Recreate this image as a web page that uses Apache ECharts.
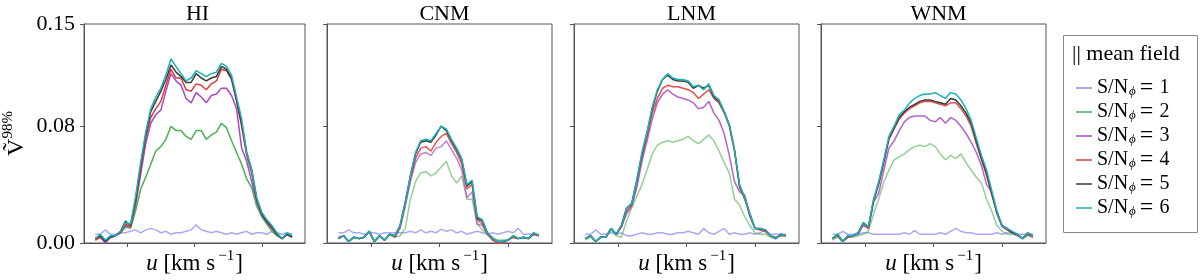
<!DOCTYPE html>
<html><head><meta charset="utf-8">
<script src="https://cdn.jsdelivr.net/npm/echarts@6/dist/echarts.min.js"></script>
<style>html,body{margin:0;padding:0;background:#fff}#c{width:1200px;height:280px}</style>
</head><body><div id="c"></div><script>
// velocity channels (km/s)
const u = [-14.75,-14,-13.25,-12.5,-11.75,-11,-10.25,-9.5,-8.75,-8,-7.25,-6.5,-5.75,-5,-4.25,-3.5,-2.75,-2,-1.25,-0.5,0.25,1,1.75,2.5,3.25,4,4.75,5.5,6.25,7,7.75,8.5,9.25,10,10.75,11.5,12.25,13,13.75,14.5];
const panelTitles = ['HI','CNM','LNM','WNM'];
const snValues = ['1','2','3','4','5','6'];
const yTickValues = [0, 0.08, 0.15];
const xTickValues = [-10, 0, 10];

// HI
const hi_sn1 = [0.006,0.006,0.009,0.006,0.006,0.007,0.007,0.008,0.009,0.007,0.009,0.010,0.009,0.007,0.008,0.006,0.007,0.007,0.008,0.009,0.0125,0.009,0.008,0.007,0.008,0.007,0.006,0.007,0.006,0.007,0.008,0.006,0.007,0.007,0.006,0.008,0.007,0.006,0.007,0.006];
const hi_sn2 = [0.002,0.004,0.002,0.004,0.005,0.007,0.011,0.010,0.022,0.037,0.045,0.054,0.063,0.066,0.071,0.080,0.077,0.077,0.073,0.071,0.077,0.077,0.071,0.074,0.076,0.082,0.079,0.070,0.062,0.054,0.044,0.038,0.025,0.018,0.013,0.008,0.005,0.003,0.006,0.004];
const hi_sn3 = [0.003,0.004,0.000,0.004,0.005,0.007,0.012,0.011,0.026,0.047,0.068,0.082,0.088,0.091,0.104,0.116,0.111,0.108,0.099,0.096,0.103,0.100,0.096,0.101,0.102,0.106,0.106,0.101,0.092,0.065,0.056,0.042,0.028,0.019,0.014,0.010,0.006,0.003,0.006,0.004];
const hi_sn4 = [0.002,0.004,0.002,0.004,0.005,0.007,0.013,0.011,0.028,0.050,0.072,0.086,0.092,0.097,0.108,0.119,0.113,0.113,0.105,0.104,0.109,0.108,0.105,0.109,0.111,0.119,0.118,0.112,0.097,0.080,0.060,0.048,0.029,0.020,0.015,0.010,0.006,0.003,0.006,0.005];
const hi_sn5 = [0.003,0.005,0.001,0.004,0.005,0.008,0.015,0.012,0.030,0.053,0.074,0.090,0.097,0.104,0.112,0.122,0.117,0.114,0.110,0.110,0.116,0.113,0.111,0.113,0.114,0.121,0.119,0.113,0.098,0.082,0.062,0.050,0.030,0.020,0.015,0.011,0.006,0.003,0.006,0.004];
const hi_sn6 = [0.003,0.006,0.002,0.005,0.005,0.008,0.014,0.013,0.032,0.055,0.076,0.092,0.100,0.106,0.115,0.126,0.121,0.116,0.111,0.113,0.118,0.116,0.114,0.116,0.117,0.123,0.121,0.115,0.100,0.085,0.062,0.050,0.031,0.021,0.016,0.012,0.007,0.003,0.007,0.005];

// CNM
const cnm_sn1 = [0.007,0.007,0.009,0.007,0.007,0.006,0.007,0.007,0.006,0.007,0.007,0.007,0.007,0.007,0.008,0.007,0.009,0.007,0.008,0.007,0.0095,0.008,0.009,0.007,0.008,0.006,0.007,0.008,0.007,0.006,0.007,0.006,0.007,0.008,0.007,0.010,0.006,0.006,0.006,0.006];
const cnm_sn2 = [0.003,0.005,0.001,0.004,0.003,0.004,0.008,0.001,0.005,0.002,0.006,0.004,0.005,0.010,0.030,0.042,0.048,0.049,0.046,0.048,0.052,0.056,0.046,0.041,0.046,0.030,0.030,0.013,0.009,0.006,0.004,0.002,0.002,0.002,0.004,0.003,0.003,0.003,0.006,0.005];
const cnm_sn3 = [0.003,0.005,0.001,0.004,0.003,0.004,0.008,0.001,0.005,0.002,0.006,0.004,0.010,0.025,0.042,0.055,0.061,0.062,0.060,0.065,0.066,0.070,0.064,0.058,0.050,0.031,0.035,0.013,0.012,0.006,0.002,0.001,0.001,0.002,0.004,0.003,0.004,0.003,0.006,0.005];
const cnm_sn4 = [0.004,0.005,0.001,0.004,0.003,0.004,0.008,0.001,0.005,0.002,0.006,0.004,0.011,0.027,0.044,0.058,0.065,0.066,0.063,0.069,0.073,0.075,0.068,0.062,0.054,0.037,0.040,0.016,0.013,0.006,0.002,0.000,0.000,0.002,0.004,0.003,0.004,0.003,0.006,0.005];
const cnm_sn5 = [0.003,0.005,0.001,0.004,0.003,0.004,0.008,0.001,0.005,0.002,0.006,0.005,0.012,0.028,0.046,0.061,0.069,0.070,0.069,0.074,0.080,0.077,0.070,0.064,0.057,0.039,0.042,0.017,0.015,0.007,0.003,0.001,0.001,0.002,0.005,0.003,0.004,0.003,0.007,0.005];
const cnm_sn6 = [0.003,0.005,0.001,0.004,0.003,0.004,0.008,0.001,0.005,0.002,0.006,0.005,0.012,0.028,0.046,0.062,0.070,0.071,0.070,0.075,0.080,0.078,0.071,0.065,0.058,0.040,0.043,0.018,0.016,0.007,0.003,0.001,0.001,0.002,0.005,0.003,0.004,0.003,0.007,0.005];

// LNM
const lnm_sn1 = [0.006,0.006,0.009,0.006,0.006,0.007,0.006,0.007,0.005,0.005,0.006,0.007,0.006,0.006,0.007,0.007,0.006,0.006,0.007,0.007,0.008,0.007,0.006,0.010,0.007,0.006,0.008,0.010,0.006,0.007,0.006,0.006,0.007,0.006,0.007,0.009,0.006,0.006,0.006,0.006];
const lnm_sn2 = [0.002,0.004,0.001,0.004,0.004,0.009,0.005,0.004,0.015,0.024,0.032,0.040,0.050,0.061,0.067,0.069,0.070,0.069,0.070,0.071,0.073,0.070,0.068,0.071,0.074,0.070,0.063,0.055,0.048,0.030,0.026,0.018,0.012,0.007,0.006,0.006,0.004,0.003,0.005,0.005];
const lnm_sn3 = [0.003,0.005,0.001,0.004,0.004,0.010,0.006,0.011,0.020,0.025,0.038,0.056,0.070,0.085,0.096,0.102,0.105,0.102,0.100,0.099,0.098,0.096,0.092,0.093,0.097,0.089,0.084,0.075,0.060,0.042,0.035,0.033,0.018,0.010,0.009,0.008,0.005,0.003,0.006,0.005];
const lnm_sn4 = [0.003,0.005,0.001,0.004,0.004,0.010,0.006,0.011,0.022,0.026,0.042,0.059,0.073,0.089,0.099,0.106,0.108,0.107,0.107,0.106,0.105,0.103,0.099,0.102,0.105,0.099,0.096,0.089,0.080,0.063,0.038,0.030,0.019,0.010,0.009,0.008,0.005,0.004,0.005,0.005];
const lnm_sn5 = [0.003,0.005,0.001,0.004,0.004,0.010,0.006,0.012,0.024,0.027,0.043,0.061,0.076,0.092,0.104,0.112,0.115,0.112,0.111,0.111,0.110,0.106,0.108,0.106,0.108,0.100,0.097,0.090,0.081,0.064,0.039,0.031,0.020,0.010,0.010,0.009,0.005,0.003,0.006,0.005];
const lnm_sn6 = [0.003,0.005,0.001,0.004,0.004,0.010,0.006,0.012,0.024,0.027,0.043,0.062,0.076,0.093,0.105,0.112,0.116,0.113,0.112,0.112,0.111,0.107,0.108,0.105,0.109,0.101,0.098,0.090,0.081,0.064,0.040,0.031,0.020,0.010,0.010,0.009,0.005,0.003,0.006,0.005];

// WNM
const wnm_sn1 = [0.006,0.006,0.008,0.006,0.006,0.006,0.007,0.007,0.006,0.006,0.006,0.006,0.006,0.006,0.007,0.006,0.0085,0.006,0.006,0.006,0.006,0.007,0.006,0.008,0.010,0.008,0.007,0.007,0.006,0.006,0.006,0.006,0.007,0.006,0.007,0.007,0.006,0.006,0.006,0.006];
const wnm_sn2 = [0.002,0.004,0.001,0.004,0.004,0.005,0.006,0.008,0.020,0.030,0.042,0.050,0.057,0.059,0.061,0.064,0.066,0.067,0.066,0.068,0.066,0.061,0.057,0.060,0.058,0.061,0.055,0.050,0.045,0.041,0.030,0.022,0.012,0.008,0.006,0.006,0.005,0.003,0.005,0.004];
const wnm_sn3 = [0.003,0.005,0.001,0.004,0.005,0.006,0.012,0.010,0.028,0.034,0.050,0.065,0.070,0.077,0.083,0.086,0.087,0.087,0.087,0.084,0.083,0.086,0.082,0.086,0.084,0.080,0.075,0.069,0.062,0.053,0.040,0.035,0.020,0.011,0.009,0.007,0.005,0.003,0.006,0.005];
const wnm_sn4 = [0.003,0.005,0.001,0.004,0.005,0.007,0.013,0.010,0.029,0.040,0.055,0.071,0.078,0.085,0.089,0.092,0.094,0.096,0.097,0.097,0.096,0.095,0.094,0.096,0.096,0.092,0.087,0.080,0.068,0.057,0.046,0.033,0.021,0.012,0.009,0.007,0.006,0.003,0.006,0.004];
const wnm_sn5 = [0.003,0.006,0.001,0.005,0.005,0.007,0.014,0.011,0.029,0.041,0.056,0.072,0.079,0.086,0.090,0.093,0.095,0.097,0.098,0.098,0.097,0.096,0.095,0.099,0.098,0.094,0.089,0.082,0.070,0.058,0.048,0.034,0.021,0.012,0.010,0.007,0.006,0.003,0.007,0.005];
const wnm_sn6 = [0.003,0.006,0.001,0.005,0.005,0.007,0.014,0.011,0.030,0.042,0.057,0.073,0.080,0.088,0.091,0.096,0.099,0.101,0.102,0.102,0.103,0.101,0.099,0.103,0.102,0.098,0.092,0.084,0.072,0.060,0.050,0.036,0.022,0.012,0.010,0.008,0.006,0.003,0.007,0.005];

const panelData = [
  [hi_sn1,hi_sn2,hi_sn3,hi_sn4,hi_sn5,hi_sn6],
  [cnm_sn1,cnm_sn2,cnm_sn3,cnm_sn4,cnm_sn5,cnm_sn6],
  [lnm_sn1,lnm_sn2,lnm_sn3,lnm_sn4,lnm_sn5,lnm_sn6],
  [wnm_sn1,wnm_sn2,wnm_sn3,wnm_sn4,wnm_sn5,wnm_sn6]
];

const FONT = 'Liberation Serif';
const colors = ['#8c8cf0','#4caf50','#a848c4','#e03a3a','#3a3a3a','#17b3b8'];
const opacities = [
  [0.75,1,1,1,1,1],
  [0.75,0.6,0.7,0.85,1,1],
  [0.75,0.6,0.85,0.9,1,1],
  [0.75,0.6,0.85,0.9,1,1]
];
const gridLefts = [80, 327, 574, 821];
const GW = 225, GT = 24, GH = 221;
const axisColor = '#555';

const names = snValues.map(s => 'S/Nϕ = ' + s);

const grids = [], xAxes = [], yAxes = [], series = [], titles = [];
gridLefts.forEach((left, p) => {
  grids.push({left: left, top: GT, width: GW, height: GH, show: true, borderColor: axisColor, borderWidth: 1, backgroundColor: 'transparent'});
  titles.push({text: panelTitles[p], left: left + GW / 2, top: -2, textAlign: 'center',
    textStyle: {fontFamily: FONT, fontSize: 22, fontWeight: 'normal', color: '#000'}});
  xAxes.push({
    type: 'value', gridIndex: p, min: -16.42, max: 16.42,
    axisLine: {show: true, onZero: false, lineStyle: {color: axisColor}},
    axisTick: {show: true, inside: false, length: 4, customValues: xTickValues, lineStyle: {color: axisColor}},
    axisLabel: {show: false},
    splitLine: {show: false},
    name: '{i|u} {r|[km s}{s|−1}{r|]}', nameLocation: 'middle', nameGap: 6,
    nameTextStyle: {fontFamily: FONT, fontSize: 23, color: '#000',
      rich: {i: {fontFamily: FONT, fontSize: 23, fontStyle: 'italic', lineHeight: 26, verticalAlign: 'bottom'},
             r: {fontFamily: FONT, fontSize: 23, lineHeight: 26, verticalAlign: 'bottom'},
             s: {fontFamily: FONT, fontSize: 15, lineHeight: 26, verticalAlign: 'top', padding: [0, 1, 0, 3]}}}
  });
  const y = {
    type: 'value', gridIndex: p, min: 0, max: 0.15,
    axisLine: {show: true, onZero: false, lineStyle: {color: axisColor}},
    axisTick: {show: true, inside: false, length: 4, customValues: yTickValues, lineStyle: {color: axisColor}},
    axisLabel: {show: p === 0, customValues: yTickValues, margin: 9, fontFamily: FONT, fontSize: 22, color: '#000',
      formatter: v => v.toFixed(2)},
    splitLine: {show: false}
  };
  if (p === 0) {
    y.name = '{v|V\u0303}{s|98%}';
    y.nameLocation = 'middle';
    y.nameRotate = 90;
    y.nameGap = 55;
    y.nameTextStyle = {fontFamily: FONT, color: '#000',
      rich: {v: {fontFamily: FONT, fontSize: 24, lineHeight: 28, verticalAlign: 'bottom'},
             s: {fontFamily: FONT, fontSize: 15, lineHeight: 28, verticalAlign: 'top'}}};
  }
  yAxes.push(y);
  panelData[p].forEach((arr, k) => {
    series.push({
      type: 'line', name: names[k], xAxisIndex: p, yAxisIndex: p,
      data: arr.map((v, i) => [u[i], v]),
      showSymbol: false, symbol: 'none', animation: false,
      color: colors[k],
      lineStyle: {width: 1.5, color: colors[k], opacity: opacities[p][k]},
      z: 2 + k
    });
  });
});

const chart = echarts.init(document.getElementById('c'), null, {renderer: 'canvas'});
chart.setOption({
  animation: false,
  backgroundColor: '#fff',
  title: titles,
  grid: grids,
  xAxis: xAxes,
  yAxis: yAxes,
  series: series,
  legend: {
    orient: 'vertical', left: 1076, top: 76, itemGap: 0, itemWidth: 16, itemHeight: 2, icon: 'rect',
    padding: 0, data: names, selectedMode: false,
    itemStyle: {opacity: 0.75},
    formatter: n => '{a|S/N}{b|ϕ}{e|=}{a|' + n.slice(-1) + '}',
    textStyle: {fontFamily: FONT, fontSize: 20, color: '#000',
      rich: {a: {fontFamily: FONT, fontSize: 20, lineHeight: 19.8, color: '#000'},
             b: {fontFamily: FONT, fontSize: 13, lineHeight: 19.8, fontStyle: 'italic', verticalAlign: 'bottom', color: '#000', padding: [0, 0, 0, 1]},
             e: {fontFamily: FONT, fontSize: 24, lineHeight: 19.8, color: '#000', padding: [0, 6, 0, 4]}}}
  },
  graphic: [
    {type: 'rect', shape: {x: 1063.5, y: 35.5, width: 134, height: 197}, style: {fill: '#fff', stroke: '#888', lineWidth: 1}, z: -1},
    {type: 'text', x: 1072, y: 54, style: {text: '|| mean field', font: '22px "Liberation Serif"', fill: '#000', textVerticalAlign: 'middle'}}
  ]
});
</script></body></html>
